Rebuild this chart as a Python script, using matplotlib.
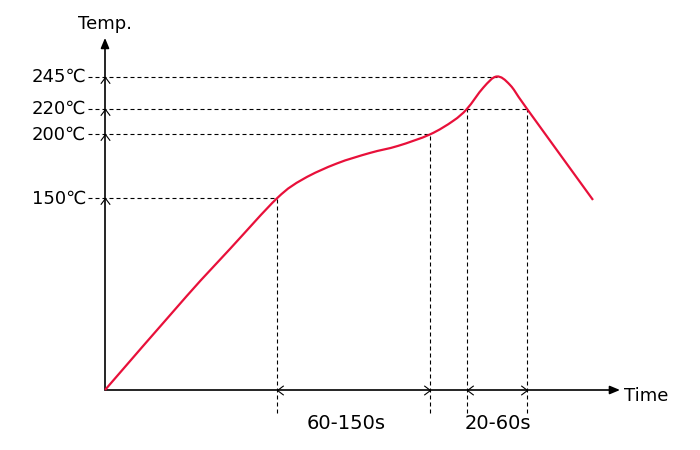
import matplotlib
matplotlib.use("Agg")
import matplotlib.pyplot as plt
from matplotlib.path import Path
from matplotlib.patches import PathPatch

# reflow profile (time in s, temperature in degC)
time_s = [0, 81.7, 125, 172, 198.3, 231.7, 265, 293, 325, 348,
          362, 378.3, 391.7, 405, 422, 488]
temp_c = [0, 73.5, 110.4, 150, 165.1, 177.2, 185.5, 191, 200, 210.5,
          220, 236.6, 245.3, 238.7, 220, 148.7]

# marked levels and where the dashed guide meets the curve
levels = [150, 200, 220, 245]
level_times = [172, 325, 422, 392]

# vertical guides (time, upper temp)
guide_times = [172, 325, 362, 422]
guide_temps = [150, 200, 220, 220]

zones = [(172, 325), (362, 422)]
zone_labels = ["60-150s", "20-60s"]
zone_label_x = [241, 392.5]

red = "#e8103a"
px = 1.278  # pixels per degC


def smooth_path(xs, ys):
    # Catmull-Rom through the read points, drawn as cubic bezier segments
    pts = list(zip(xs, ys))
    ext = [pts[0]] + pts + [pts[-1]]
    verts = [pts[0]]
    codes = [Path.MOVETO]
    for i in range(1, len(ext) - 2):
        p0, p1, p2, p3 = ext[i - 1], ext[i], ext[i + 1], ext[i + 2]
        c1 = (p1[0] + (p2[0] - p0[0]) / 6, p1[1] + (p2[1] - p0[1]) / 6)
        c2 = (p2[0] - (p3[0] - p1[0]) / 6, p2[1] - (p3[1] - p1[1]) / 6)
        verts += [c1, c2, p2]
        codes += [Path.CURVE4] * 3
    return Path(verts, codes)


fig = plt.figure(figsize=(7, 4.5), dpi=100)
ax = fig.add_axes([0, 0, 1, 1])
ax.set_xlim(-105, 595)
ax.set_ylim(-60 / px, 390 / px)
ax.axis("off")

dash = dict(color="black", lw=0.8, dashes=(3.6, 2.7))
bottom = -23 / px

# dashed guides
for T, t in zip(levels, level_times):
    ax.plot([-17, t], [T, T], **dash)
for t, T in zip(guide_times, guide_temps):
    ax.plot([t, t], [bottom, T], **dash)

# axes with arrow heads
arr = dict(arrowstyle="-|>,head_length=0.6,head_width=0.25", color="black",
           lw=1.2, mutation_scale=10, shrinkA=0, shrinkB=0)
ax.annotate("", xy=(515, 0), xytext=(0, 0), arrowprops=arr)
ax.annotate("", xy=(0, 275.5), xytext=(0, 0), arrowprops=arr)

# small open chevrons
up = Path([(-0.75, -1), (0, 0), (0.75, -1)], [Path.MOVETO, Path.LINETO, Path.LINETO])
left = Path([(1, 0.75), (0, 0), (1, -0.75)], [Path.MOVETO, Path.LINETO, Path.LINETO])
right = Path([(-1, 0.75), (0, 0), (-1, -0.75)], [Path.MOVETO, Path.LINETO, Path.LINETO])
mk = dict(linestyle="none", ms=9, mfc="none", mec="black", mew=0.8)
ax.plot([0] * len(levels), levels, marker=up, **mk)
ax.plot([z[0] for z in zones], [0] * len(zones), marker=left, **mk)
ax.plot([z[1] for z in zones], [0] * len(zones), marker=right, **mk)

# the curve
ax.add_patch(PathPatch(smooth_path(time_s, temp_c), facecolor="none",
                       edgecolor=red, lw=1.6, capstyle="butt", zorder=3))

# texts
for T in levels:
    ax.text(-19, T, f"{T}\u2103", ha="right", va="center", fontsize=13)
ax.text(0, 286, "Temp.", ha="center", va="center", fontsize=13)
ax.text(519, -4.7, "Time", ha="left", va="center", fontsize=13)
for lbl, x in zip(zone_labels, zone_label_x):
    ax.text(x, -26.6, lbl, ha="center", va="center", fontsize=14)

fig.savefig("out.png", dpi=100)
